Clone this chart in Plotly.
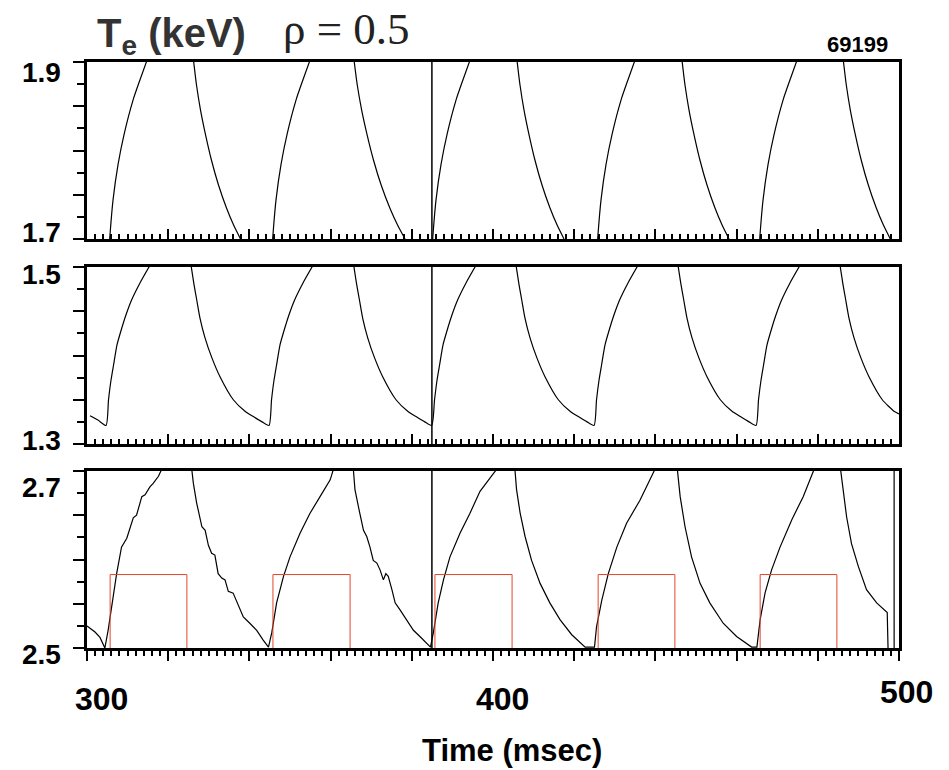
import plotly.graph_objects as go

# ---------------- data (time in msec, Te in keV) ----------------
# Panel 1 (1.7 - 1.9 keV)
top_t = [305.57, 305.67, 306.41, 307.64, 309.12, 311.34, 313.06, 314.78, None,
         326.23, 326.97, 327.95, 329.19, 330.66, 332.39, 334.36, 336.08, 337.81, None,
         345.71, 345.81, 346.55, 347.78, 349.26, 351.48, 353.20, 354.92, None,
         365.77, 366.57, 367.64, 368.98, 370.58, 372.45, 374.59, 376.46, 378.33, None,
         385.12, 385.22, 385.96, 387.19, 388.67, 390.89, 392.61, 394.33, None,
         405.91, 406.65, 407.63, 408.87, 410.34, 412.07, 414.04, 415.76, 417.49, None,
         425.76, 425.86, 426.60, 427.83, 429.31, 431.53, 433.25, 434.97, None,
         446.55, 447.29, 448.27, 449.51, 450.98, 452.71, 454.68, 456.40, 458.13, None,
         465.67, 465.77, 466.51, 467.74, 469.22, 471.44, 473.16, 474.88, None,
         486.28, 487.02, 488.00, 489.24, 490.71, 492.44, 494.41, 496.13, 497.86]
top_v = [1.698, 1.705, 1.744, 1.784, 1.818, 1.857, 1.880, 1.902, None,
         1.902, 1.874, 1.846, 1.818, 1.789, 1.761, 1.735, 1.716, 1.700, None,
         1.698, 1.705, 1.744, 1.784, 1.818, 1.857, 1.880, 1.902, None,
         1.902, 1.874, 1.846, 1.818, 1.789, 1.761, 1.735, 1.716, 1.700, None,
         1.698, 1.705, 1.744, 1.784, 1.818, 1.857, 1.880, 1.902, None,
         1.902, 1.874, 1.846, 1.818, 1.789, 1.761, 1.735, 1.716, 1.700, None,
         1.698, 1.705, 1.744, 1.784, 1.818, 1.857, 1.880, 1.902, None,
         1.902, 1.874, 1.846, 1.818, 1.789, 1.761, 1.735, 1.716, 1.700, None,
         1.698, 1.705, 1.744, 1.784, 1.818, 1.857, 1.880, 1.902, None,
         1.902, 1.874, 1.846, 1.818, 1.789, 1.761, 1.735, 1.716, 1.700]

# Panel 2 (1.3 - 1.5 keV)
mid_t = [300.74, 302.71, 304.68, 305.30, 305.91, 306.53, 307.39, 308.37, 309.61, 311.01, 313.05, 315.52, None,
         325.62, 326.36, 327.02, 327.84, 329.07, 330.79, 332.76, 336.04, 338.92, 340.97, 343.11, 344.83,
         345.45, 346.06, 346.68, 347.54, 348.52, 349.76, 351.16, 353.20, 355.67, None,
         365.69, 366.43, 367.09, 367.91, 369.14, 370.86, 372.83, 376.11, 378.99, 381.04, 383.18, 384.90,
         385.60, 386.21, 386.83, 387.69, 388.67, 389.91, 391.31, 393.35, 395.82, None,
         405.67, 406.41, 407.07, 407.89, 409.12, 410.84, 412.81, 416.09, 418.97, 421.02, 423.16, 424.88,
         425.50, 426.11, 426.73, 427.59, 428.57, 429.81, 431.21, 433.25, 435.72, None,
         445.57, 446.31, 446.97, 447.79, 449.02, 450.74, 452.71, 455.99, 458.87, 460.92, 463.06, 464.78,
         465.40, 466.01, 466.63, 467.49, 468.47, 469.71, 471.11, 473.15, 475.62, None,
         485.47, 486.21, 486.87, 487.69, 488.92, 490.64, 492.61, 495.89, 498.77, 500.00]
mid_v = [1.332, 1.327, 1.321, 1.350, 1.372, 1.389, 1.412, 1.428, 1.446, 1.463, 1.482, 1.502, None,
         1.502, 1.480, 1.463, 1.442, 1.420, 1.397, 1.376, 1.350, 1.337, 1.331, 1.325, 1.321,
         1.350, 1.372, 1.389, 1.412, 1.428, 1.446, 1.463, 1.482, 1.502, None,
         1.502, 1.480, 1.463, 1.442, 1.420, 1.397, 1.376, 1.350, 1.337, 1.331, 1.325, 1.321,
         1.350, 1.372, 1.389, 1.412, 1.428, 1.446, 1.463, 1.482, 1.502, None,
         1.502, 1.480, 1.463, 1.442, 1.420, 1.397, 1.376, 1.350, 1.337, 1.331, 1.325, 1.321,
         1.350, 1.372, 1.389, 1.412, 1.428, 1.446, 1.463, 1.482, 1.502, None,
         1.502, 1.480, 1.463, 1.442, 1.420, 1.397, 1.376, 1.350, 1.337, 1.331, 1.325, 1.321,
         1.350, 1.372, 1.389, 1.412, 1.428, 1.446, 1.463, 1.482, 1.502, None,
         1.502, 1.480, 1.463, 1.442, 1.420, 1.397, 1.376, 1.350, 1.337, 1.334]

# Panel 3 (2.5 - 2.7 keV)
bot_t = [300.0, 301.97, 303.2, 304.4, 305.2, 306.1, 307.3, 308.5, 309.8, 311.4, 312.2, 313.5, 314.3, 315.5, 316.3, 317.6, 318.4, None,
         325.8, 326.2, 327.0, 328.3, 329.1, 329.9, 330.7, 331.5, 332.3, 333.2, 334.0, 334.8, 336.0, 337.3, 338.5, 340.1, 341.8, 343.4, 344.7,
         345.5, 346.7, 348.4, 350.0, 352.5, 354.9, 357.4, 359.9, 360.7, None,
         365.6, 366.0, 367.2, 368.1, 368.9, 369.7, 370.5, 371.4, 372.2, 373.0, 373.6, 374.2, 375.1, 375.9, 377.1, 378.7, 380.4, 382.0, 383.7, 384.6,
         385.3, 386.5, 387.8, 389.4, 391.9, 394.3, 396.8, 400.9, None,
         405.4, 405.8, 406.7, 407.9, 409.5, 411.6, 414.0, 416.5, 419.4, 422.7,
         425.0, 425.5, 426.8, 428.4, 430.5, 432.9, 436.2, 439.9, None,
         445.4, 446.1, 447.3, 448.9, 451.0, 453.4, 456.7, 460.0, 463.7,
         465.0, 465.8, 467.0, 468.6, 470.7, 473.6, 476.4, 479.1, None,
         485.6, 486.3, 487.1, 488.3, 490.0, 492.0, 494.5, 497.1, 497.3]
bot_v = [2.525, 2.518, 2.512, 2.500, 2.520, 2.547, 2.584, 2.614, 2.624, 2.647, 2.650, 2.671, 2.673, 2.682, 2.686, 2.694, 2.702, None,
         2.702, 2.686, 2.664, 2.637, 2.633, 2.616, 2.607, 2.605, 2.584, 2.579, 2.577, 2.564, 2.562, 2.547, 2.535, 2.528, 2.520, 2.509, 2.501,
         2.517, 2.551, 2.581, 2.603, 2.630, 2.652, 2.671, 2.690, 2.702, None,
         2.702, 2.679, 2.652, 2.633, 2.626, 2.614, 2.599, 2.596, 2.588, 2.577, 2.584, 2.581, 2.566, 2.551, 2.543, 2.532, 2.520, 2.513, 2.505, 2.501,
         2.517, 2.551, 2.577, 2.603, 2.630, 2.652, 2.677, 2.702, None,
         2.702, 2.679, 2.652, 2.626, 2.599, 2.573, 2.551, 2.532, 2.515, 2.501,
         2.501, 2.524, 2.554, 2.584, 2.614, 2.641, 2.667, 2.702, None,
         2.702, 2.671, 2.637, 2.603, 2.573, 2.551, 2.528, 2.513, 2.501,
         2.501, 2.532, 2.562, 2.588, 2.614, 2.645, 2.671, 2.702, None,
         2.702, 2.675, 2.648, 2.618, 2.592, 2.566, 2.551, 2.540, 2.500]

# Modulation (power on) windows, drawn as red boxes in panel 3
pulse_on = [305.7, 345.8, 385.7, 425.9, 465.8]
pulse_off = [324.6, 364.8, 404.7, 444.8, 484.7]
pulse_level = 2.583
pulse_base = 2.5

marker_times = [384.95]          # vertical marker across all panels
end_marker_time = 498.8          # extra line at the end of panel 3

y_ranges = [[1.7, 1.9], [1.3, 1.5], [2.5, 2.7]]
x_range = [300, 500]
x_labels = ["300", "400", "500"]
y_labels = [["1.9", "1.7"], ["1.5", "1.3"], ["2.7", "2.5"]]
shot = "69199"

# ---------------- figure ----------------
W, H = 949, 770
fx = lambda p: p / W
fy = lambda p: 1 - p / H

# pixel extents of the panels
x_left, x_right = 87, 899
panels_px = [(62, 239), (267, 444), (471, 648)]

fig = go.Figure()
line_style = dict(color="black", width=1.2, shape="spline", smoothing=0.6)
fig.add_trace(go.Scatter(x=top_t, y=top_v, mode="lines", line=line_style, xaxis="x", yaxis="y",
                         showlegend=False, hoverinfo="skip"))
fig.add_trace(go.Scatter(x=mid_t, y=mid_v, mode="lines", line=line_style, xaxis="x2", yaxis="y2",
                         showlegend=False, hoverinfo="skip"))
fig.add_trace(go.Scatter(x=bot_t, y=bot_v, mode="lines", line=dict(color="black", width=1.2),
                         xaxis="x3", yaxis="y3", showlegend=False, hoverinfo="skip"))

px_, py_ = [], []
for on, off in zip(pulse_on, pulse_off):
    px_ += [on, on, off, off, None]
    py_ += [pulse_base, pulse_level, pulse_level, pulse_base, None]
fig.add_trace(go.Scatter(x=px_, y=py_, mode="lines", line=dict(color="#e3472b", width=1),
                         xaxis="x3", yaxis="y3", showlegend=False, hoverinfo="skip"))

layout = dict(width=W, height=H, margin=dict(l=0, r=0, t=0, b=0),
              paper_bgcolor="white", plot_bgcolor="white", showlegend=False)

for i, (top_px, bot_px) in enumerate(panels_px):
    sfx = "" if i == 0 else str(i + 1)
    inside = i < 2
    layout["xaxis" + sfx] = dict(
        domain=[fx(x_left), fx(x_right)], range=x_range, anchor="y" + sfx,
        showline=True, linewidth=3, linecolor="black", mirror=True,
        showgrid=False, zeroline=False, showticklabels=False,
        ticks="inside" if inside else "outside", tick0=300, dtick=20,
        ticklen=10, tickwidth=2, tickcolor="black",
        minor=dict(ticks="inside" if inside else "outside", tick0=300, dtick=2,
                   ticklen=5, tickwidth=1.5, tickcolor="black", showgrid=False),
    )
    yr = y_ranges[i]
    layout["yaxis" + sfx] = dict(
        domain=[fy(bot_px), fy(top_px)], range=yr, anchor="x" + sfx,
        showline=True, linewidth=3, linecolor="black", mirror=True,
        showgrid=False, zeroline=False, showticklabels=False,
        ticks="outside", tick0=yr[0], dtick=0.05, ticklen=11, tickwidth=2, tickcolor="black",
        minor=dict(ticks="outside", tick0=yr[0], dtick=0.025, ticklen=7, tickwidth=1.5,
                   tickcolor="black", showgrid=False),
    )

shapes = []
for i in range(3):
    sfx = "" if i == 0 else str(i + 1)
    for mt in marker_times:
        shapes.append(dict(type="line", xref="x" + sfx, yref=("y" + sfx) + " domain",
                           x0=mt, x1=mt, y0=0, y1=1, line=dict(color="black", width=1.5)))
shapes.append(dict(type="line", xref="x3", yref="y3 domain", x0=end_marker_time, x1=end_marker_time,
                   y0=0, y1=1, line=dict(color="black", width=1.2)))
layout["shapes"] = shapes

sans = "Liberation Sans, Arial, Helvetica, sans-serif"
ann = []
# y labels
ylab_pos = [[73, 232], [274, 440], [487, 654]]
for labs, poss in zip(y_labels, ylab_pos):
    for lab, p in zip(labs, poss):
        ann.append(dict(text="<b>%s</b>" % lab, x=fx(63), y=fy(p), xref="paper", yref="paper",
                        xanchor="right", yanchor="middle", showarrow=False,
                        font=dict(family=sans, size=28, color="black")))
# x labels
xlab_pos = [(101, 699), (503, 699), (906, 692)]
for lab, (xp, yp) in zip(x_labels, xlab_pos):
    ann.append(dict(text="<b>%s</b>" % lab, x=fx(xp), y=fy(yp), xref="paper", yref="paper",
                    xanchor="center", yanchor="middle", showarrow=False,
                    font=dict(family=sans, size=32, color="black")))
ann.append(dict(text="<b>Time (msec)</b>", x=fx(512), y=fy(750), xref="paper", yref="paper",
                xanchor="center", yanchor="middle", showarrow=False,
                font=dict(family=sans, size=31, color="black")))
ann.append(dict(text="<b>T<sub>e</sub> (keV)</b>", x=fx(95), y=fy(36), xref="paper", yref="paper",
                xanchor="left", yanchor="middle", showarrow=False,
                font=dict(family=sans, size=40, color="#333333")))
ann.append(dict(text="ρ = 0.5", x=fx(281), y=fy(29), xref="paper", yref="paper",
                xanchor="left", yanchor="middle", showarrow=False,
                font=dict(family="Liberation Serif, Times New Roman, serif", size=45, color="#222222")))
ann.append(dict(text="<b>%s</b>" % shot, x=fx(857), y=fy(45), xref="paper", yref="paper",
                xanchor="center", yanchor="middle", showarrow=False,
                font=dict(family=sans, size=22, color="black")))
layout["annotations"] = ann

fig.update_layout(**layout)
fig.write_html("out.html")
